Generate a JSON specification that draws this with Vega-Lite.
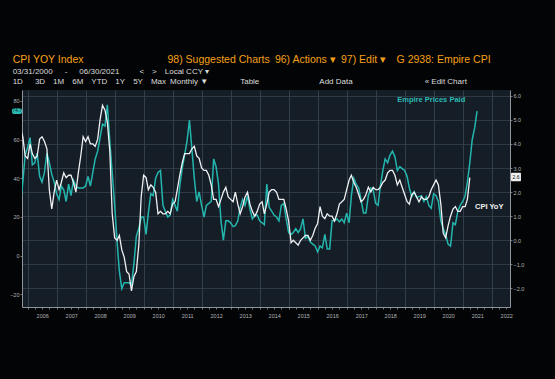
{
  "$schema": "https://vega.github.io/schema/vega-lite/v6.json",
  "width": 488,
  "height": 217,
  "autosize": {"type": "none"},
  "padding": {"left": 22, "top": 90, "right": 45, "bottom": 72},
  "background": "#030405",
  "config": {
    "view": {"fill": "#151d27", "stroke": null},
    "font": "Liberation Sans"
  },
  "title": {
    "text": "CPI YOY Index\u2003\u2003\u2003\u2003\u2003\u2003\u2003\u200398) Suggested Charts\u200296) Actions \u25be\u200297) Edit \u25be\u2003G 2938: Empire CPI",
    "subtitle": [
      "03/31/2000\u2003\u2002-\u2003\u200206/30/2021\u2003\u2003\u2002<\u2003>\u2003Local CCY \u25be",
      "1D\u2003\u20023D\u20031M\u20036M\u2003YTD\u20031Y\u20035Y\u2003Max\u2002Monthly \u25bc\u2003\u2003\u2003\u2003Table\u2003\u2003\u2003\u2003\u2003\u2003\u2003\u2002Add Data\u2003\u2003\u2003\u2003\u2003\u2003\u2003\u2003\u2003\u00ab Edit Chart"
    ],
    "anchor": "start",
    "dx": 3,
    "offset": 4,
    "color": "#f5a01a",
    "fontSize": 10.5,
    "fontWeight": "normal",
    "font": "Liberation Sans",
    "subtitleColor": "#dcdcdc",
    "subtitleFont": "Liberation Sans",
    "subtitleFontSize": 8,
    "subtitleLineHeight": 10,
    "subtitlePadding": 3
  },
  "data": {"name": "main"},
  "datasets": {
    "main": [
      {"date": "2005-09-30", "cpi": 4.7, "epp": 25},
      {"date": "2005-10-31", "cpi": 4.3, "epp": 38},
      {"date": "2005-11-30", "cpi": 3.5, "epp": 52},
      {"date": "2005-12-31", "cpi": 3.4, "epp": 56},
      {"date": "2006-01-31", "cpi": 4.0, "epp": 61},
      {"date": "2006-02-28", "cpi": 3.6, "epp": 47},
      {"date": "2006-03-31", "cpi": 3.4, "epp": 48},
      {"date": "2006-04-30", "cpi": 3.5, "epp": 53},
      {"date": "2006-05-31", "cpi": 4.2, "epp": 41},
      {"date": "2006-06-30", "cpi": 4.3, "epp": 38},
      {"date": "2006-07-31", "cpi": 4.1, "epp": 43},
      {"date": "2006-08-31", "cpi": 3.8, "epp": 53},
      {"date": "2006-09-30", "cpi": 2.1, "epp": 48},
      {"date": "2006-10-31", "cpi": 1.3, "epp": 42},
      {"date": "2006-11-30", "cpi": 2.0, "epp": 38},
      {"date": "2006-12-31", "cpi": 2.5, "epp": 32},
      {"date": "2007-01-31", "cpi": 2.1, "epp": 29},
      {"date": "2007-02-28", "cpi": 2.4, "epp": 36},
      {"date": "2007-03-31", "cpi": 2.8, "epp": 34},
      {"date": "2007-04-30", "cpi": 2.6, "epp": 28},
      {"date": "2007-05-31", "cpi": 2.7, "epp": 37},
      {"date": "2007-06-30", "cpi": 2.7, "epp": 31},
      {"date": "2007-07-31", "cpi": 2.4, "epp": 39},
      {"date": "2007-08-31", "cpi": 2.0, "epp": 36},
      {"date": "2007-09-30", "cpi": 2.8, "epp": 35},
      {"date": "2007-10-31", "cpi": 3.5, "epp": 35},
      {"date": "2007-11-30", "cpi": 4.3, "epp": 35},
      {"date": "2007-12-31", "cpi": 4.1, "epp": 36},
      {"date": "2008-01-31", "cpi": 4.3, "epp": 41},
      {"date": "2008-02-29", "cpi": 4.0, "epp": 36},
      {"date": "2008-03-31", "cpi": 4.0, "epp": 43},
      {"date": "2008-04-30", "cpi": 3.9, "epp": 50},
      {"date": "2008-05-31", "cpi": 4.2, "epp": 54},
      {"date": "2008-06-30", "cpi": 5.0, "epp": 61},
      {"date": "2008-07-31", "cpi": 5.6, "epp": 68},
      {"date": "2008-08-31", "cpi": 5.4, "epp": 67},
      {"date": "2008-09-30", "cpi": 4.9, "epp": 78},
      {"date": "2008-10-31", "cpi": 3.7, "epp": 59},
      {"date": "2008-11-30", "cpi": 1.1, "epp": 43},
      {"date": "2008-12-31", "cpi": 0.1, "epp": 26},
      {"date": "2009-01-31", "cpi": 0.0, "epp": 7},
      {"date": "2009-02-28", "cpi": 0.2, "epp": -8},
      {"date": "2009-03-31", "cpi": -0.4, "epp": -17},
      {"date": "2009-04-30", "cpi": -0.7, "epp": -14},
      {"date": "2009-05-31", "cpi": -1.3, "epp": -14},
      {"date": "2009-06-30", "cpi": -1.4, "epp": -14},
      {"date": "2009-07-31", "cpi": -2.1, "epp": -15},
      {"date": "2009-08-31", "cpi": -1.5, "epp": -4},
      {"date": "2009-09-30", "cpi": -1.3, "epp": 10},
      {"date": "2009-10-31", "cpi": -0.2, "epp": 14},
      {"date": "2009-11-30", "cpi": 1.8, "epp": 20},
      {"date": "2009-12-31", "cpi": 2.7, "epp": 20},
      {"date": "2010-01-31", "cpi": 2.6, "epp": 11},
      {"date": "2010-02-28", "cpi": 2.1, "epp": 22},
      {"date": "2010-03-31", "cpi": 2.3, "epp": 32},
      {"date": "2010-04-30", "cpi": 2.2, "epp": 31},
      {"date": "2010-05-31", "cpi": 2.0, "epp": 40},
      {"date": "2010-06-30", "cpi": 1.1, "epp": 43},
      {"date": "2010-07-31", "cpi": 1.2, "epp": 44},
      {"date": "2010-08-31", "cpi": 1.1, "epp": 26},
      {"date": "2010-09-30", "cpi": 1.1, "epp": 23},
      {"date": "2010-10-31", "cpi": 1.2, "epp": 20},
      {"date": "2010-11-30", "cpi": 1.1, "epp": 21},
      {"date": "2010-12-31", "cpi": 1.5, "epp": 29},
      {"date": "2011-01-31", "cpi": 1.6, "epp": 26},
      {"date": "2011-02-28", "cpi": 2.1, "epp": 23},
      {"date": "2011-03-31", "cpi": 2.7, "epp": 36},
      {"date": "2011-04-30", "cpi": 3.2, "epp": 45},
      {"date": "2011-05-31", "cpi": 3.6, "epp": 52},
      {"date": "2011-06-30", "cpi": 3.6, "epp": 59},
      {"date": "2011-07-31", "cpi": 3.6, "epp": 70},
      {"date": "2011-08-31", "cpi": 3.8, "epp": 55},
      {"date": "2011-09-30", "cpi": 3.9, "epp": 40},
      {"date": "2011-10-31", "cpi": 3.5, "epp": 28},
      {"date": "2011-11-30", "cpi": 3.4, "epp": 33},
      {"date": "2011-12-31", "cpi": 3.0, "epp": 26},
      {"date": "2012-01-31", "cpi": 2.9, "epp": 20},
      {"date": "2012-02-29", "cpi": 2.9, "epp": 26},
      {"date": "2012-03-31", "cpi": 2.7, "epp": 27},
      {"date": "2012-04-30", "cpi": 2.3, "epp": 28},
      {"date": "2012-05-31", "cpi": 1.7, "epp": 50},
      {"date": "2012-06-30", "cpi": 1.7, "epp": 46},
      {"date": "2012-07-31", "cpi": 1.4, "epp": 37},
      {"date": "2012-08-31", "cpi": 1.7, "epp": 18},
      {"date": "2012-09-30", "cpi": 2.0, "epp": 8},
      {"date": "2012-10-31", "cpi": 2.2, "epp": 18},
      {"date": "2012-11-30", "cpi": 1.8, "epp": 18},
      {"date": "2012-12-31", "cpi": 1.7, "epp": 17},
      {"date": "2013-01-31", "cpi": 1.6, "epp": 15},
      {"date": "2013-02-28", "cpi": 2.0, "epp": 15.5},
      {"date": "2013-03-31", "cpi": 1.5, "epp": 18},
      {"date": "2013-04-30", "cpi": 1.1, "epp": 25},
      {"date": "2013-05-31", "cpi": 1.4, "epp": 29},
      {"date": "2013-06-30", "cpi": 1.8, "epp": 26},
      {"date": "2013-07-31", "cpi": 2.0, "epp": 31},
      {"date": "2013-08-31", "cpi": 1.5, "epp": 24},
      {"date": "2013-09-30", "cpi": 1.2, "epp": 19},
      {"date": "2013-10-31", "cpi": 1.0, "epp": 21},
      {"date": "2013-11-30", "cpi": 1.2, "epp": 21},
      {"date": "2013-12-31", "cpi": 1.5, "epp": 18},
      {"date": "2014-01-31", "cpi": 1.6, "epp": 17},
      {"date": "2014-02-28", "cpi": 1.1, "epp": 16},
      {"date": "2014-03-31", "cpi": 1.5, "epp": 37},
      {"date": "2014-04-30", "cpi": 2.0, "epp": 25},
      {"date": "2014-05-31", "cpi": 2.1, "epp": 23},
      {"date": "2014-06-30", "cpi": 2.1, "epp": 21},
      {"date": "2014-07-31", "cpi": 2.0, "epp": 20},
      {"date": "2014-08-31", "cpi": 1.7, "epp": 18},
      {"date": "2014-09-30", "cpi": 1.7, "epp": 26},
      {"date": "2014-10-31", "cpi": 1.7, "epp": 27},
      {"date": "2014-11-30", "cpi": 1.3, "epp": 19},
      {"date": "2014-12-31", "cpi": 0.8, "epp": 12},
      {"date": "2015-01-31", "cpi": -0.1, "epp": 11},
      {"date": "2015-02-28", "cpi": 0.0, "epp": 12},
      {"date": "2015-03-31", "cpi": -0.1, "epp": 14},
      {"date": "2015-04-30", "cpi": -0.2, "epp": 12},
      {"date": "2015-05-31", "cpi": 0.0, "epp": 14},
      {"date": "2015-06-30", "cpi": 0.1, "epp": 19},
      {"date": "2015-07-31", "cpi": 0.2, "epp": 9},
      {"date": "2015-08-31", "cpi": 0.2, "epp": 10},
      {"date": "2015-09-30", "cpi": 0.0, "epp": 7},
      {"date": "2015-10-31", "cpi": 0.2, "epp": 6},
      {"date": "2015-11-30", "cpi": 0.5, "epp": 5},
      {"date": "2015-12-31", "cpi": 0.7, "epp": 2},
      {"date": "2016-01-31", "cpi": 1.4, "epp": 5},
      {"date": "2016-02-29", "cpi": 1.0, "epp": 4},
      {"date": "2016-03-31", "cpi": 0.9, "epp": 11},
      {"date": "2016-04-30", "cpi": 1.1, "epp": 3.5},
      {"date": "2016-05-31", "cpi": 1.0, "epp": 3.5},
      {"date": "2016-06-30", "cpi": 1.0, "epp": 18},
      {"date": "2016-07-31", "cpi": 0.8, "epp": 18},
      {"date": "2016-08-31", "cpi": 1.1, "epp": 19},
      {"date": "2016-09-30", "cpi": 1.5, "epp": 17.5},
      {"date": "2016-10-31", "cpi": 1.6, "epp": 19},
      {"date": "2016-11-30", "cpi": 1.7, "epp": 17},
      {"date": "2016-12-31", "cpi": 2.1, "epp": 22},
      {"date": "2017-01-31", "cpi": 2.5, "epp": 17},
      {"date": "2017-02-28", "cpi": 2.7, "epp": 31},
      {"date": "2017-03-31", "cpi": 2.4, "epp": 40},
      {"date": "2017-04-30", "cpi": 2.2, "epp": 37},
      {"date": "2017-05-31", "cpi": 1.9, "epp": 35},
      {"date": "2017-06-30", "cpi": 1.6, "epp": 29},
      {"date": "2017-07-31", "cpi": 1.7, "epp": 22},
      {"date": "2017-08-31", "cpi": 1.9, "epp": 22},
      {"date": "2017-09-30", "cpi": 2.2, "epp": 31},
      {"date": "2017-10-31", "cpi": 2.0, "epp": 35},
      {"date": "2017-11-30", "cpi": 2.2, "epp": 34},
      {"date": "2017-12-31", "cpi": 2.1, "epp": 27},
      {"date": "2018-01-31", "cpi": 2.1, "epp": 26},
      {"date": "2018-02-28", "cpi": 2.2, "epp": 36},
      {"date": "2018-03-31", "cpi": 2.4, "epp": 44},
      {"date": "2018-04-30", "cpi": 2.5, "epp": 50},
      {"date": "2018-05-31", "cpi": 2.8, "epp": 48},
      {"date": "2018-06-30", "cpi": 2.9, "epp": 52},
      {"date": "2018-07-31", "cpi": 2.9, "epp": 54},
      {"date": "2018-08-31", "cpi": 2.7, "epp": 51},
      {"date": "2018-09-30", "cpi": 2.3, "epp": 44},
      {"date": "2018-10-31", "cpi": 2.5, "epp": 46},
      {"date": "2018-11-30", "cpi": 2.2, "epp": 45},
      {"date": "2018-12-31", "cpi": 1.9, "epp": 44},
      {"date": "2019-01-31", "cpi": 1.6, "epp": 41},
      {"date": "2019-02-28", "cpi": 1.5, "epp": 35},
      {"date": "2019-03-31", "cpi": 1.9, "epp": 30.5},
      {"date": "2019-04-30", "cpi": 2.0, "epp": 33},
      {"date": "2019-05-31", "cpi": 1.8, "epp": 30},
      {"date": "2019-06-30", "cpi": 1.6, "epp": 30.5},
      {"date": "2019-07-31", "cpi": 1.8, "epp": 31},
      {"date": "2019-08-31", "cpi": 1.7, "epp": 28},
      {"date": "2019-09-30", "cpi": 1.7, "epp": 30.5},
      {"date": "2019-10-31", "cpi": 1.8, "epp": 26},
      {"date": "2019-11-30", "cpi": 2.1, "epp": 24.5},
      {"date": "2019-12-31", "cpi": 2.3, "epp": 32},
      {"date": "2020-01-31", "cpi": 2.5, "epp": 31},
      {"date": "2020-02-29", "cpi": 2.3, "epp": 28},
      {"date": "2020-03-31", "cpi": 1.5, "epp": 18},
      {"date": "2020-04-30", "cpi": 0.3, "epp": 14},
      {"date": "2020-05-31", "cpi": 0.1, "epp": 11},
      {"date": "2020-06-30", "cpi": 0.6, "epp": 6},
      {"date": "2020-07-31", "cpi": 1.0, "epp": 5},
      {"date": "2020-08-31", "cpi": 1.3, "epp": 17},
      {"date": "2020-09-30", "cpi": 1.4, "epp": 16},
      {"date": "2020-10-31", "cpi": 1.2, "epp": 23},
      {"date": "2020-11-30", "cpi": 1.2, "epp": 26},
      {"date": "2020-12-31", "cpi": 1.4, "epp": 28},
      {"date": "2021-01-31", "cpi": 1.4, "epp": 31},
      {"date": "2021-02-28", "cpi": 1.7, "epp": 38},
      {"date": "2021-03-31", "cpi": 2.6, "epp": 48},
      {"date": "2021-04-30", "cpi": null, "epp": 60},
      {"date": "2021-05-31", "cpi": null, "epp": 66},
      {"date": "2021-06-30", "cpi": null, "epp": 74.7}
    ]
  },
  "resolve": {"scale": {"y": "independent"}},
  "layer": [
    {
      "layer": [
        {
          "mark": {"type": "line", "color": "#24b6ae", "strokeWidth": 1.5, "clip": true},
          "encoding": {
            "x": {
              "field": "date", "type": "temporal",
              "scale": {"type": "utc", "domain": [{"year": 2005, "month": 10, "date": 21, "utc": true}, {"year": 2022, "month": 8, "date": 19, "utc": true}]},
              "axis": {
                "title": null, "orient": "bottom",
                "tickCount": {"interval": "month", "step": 3},
                "grid": true, "gridColor": "#3a4652", "gridWidth": 0.8,
                "gridOpacity": {"condition": {"test": "utcmonth(datum.value) == 0", "value": 1}, "value": 0},
                "labelExpr": "utcmonth(datum.value) == 0 ? utcFormat(datum.value, '%Y') : ''",
                "labelOffset": 14.5, "labelFontSize": 5.5, "labelColor": "#b0b5ba", "labelPadding": 4,
                "labelOverlap": false, "labelBound": false, "labelFlush": false,
                "tickSize": 2, "tickColor": "#8d949b", "tickWidth": 0.8,
                "domainColor": "#8d949b", "domainWidth": 1
              }
            },
            "y": {
              "field": "epp", "type": "quantitative",
              "scale": {"domain": [-26.5, 85.6], "nice": false, "zero": false},
              "axis": {
                "title": null, "orient": "left", "values": [-20, 0, 20, 40, 60, 80], "grid": false,
                "labelFontSize": 5.5, "labelColor": "#b0b5ba", "labelPadding": 1,
                "labelOverlap": false, "labelBound": false, "labelFlush": false,
                "tickSize": 2, "tickColor": "#8d949b", "tickWidth": 0.8,
                "domainColor": "#8d949b", "domainWidth": 1
              }
            }
          }
        },
        {
          "data": {"values": [{"date": "2019-12-01", "value": 80.5, "label": "Empire Prices Paid"}]},
          "mark": {"type": "text", "fontWeight": "bold", "fontSize": 7.5, "color": "#2bbab2", "font": "Liberation Sans"},
          "encoding": {
            "x": {"field": "date", "type": "temporal", "scale": {"type": "utc", "domain": [{"year": 2005, "month": 10, "date": 21, "utc": true}, {"year": 2022, "month": 8, "date": 19, "utc": true}]}},
            "y": {"field": "value", "type": "quantitative", "scale": {"domain": [-26.5, 85.6], "nice": false, "zero": false}},
            "text": {"field": "label"}
          }
        },
        {
          "data": {"values": [{"start": "2005-06-17", "end": "2005-10-21", "low": 73.2, "high": 76.2}]},
          "mark": {"type": "rect", "color": "#2bbab2", "cornerRadius": 2},
          "encoding": {
            "x": {"field": "start", "type": "temporal", "scale": {"type": "utc", "domain": [{"year": 2005, "month": 10, "date": 21, "utc": true}, {"year": 2022, "month": 8, "date": 19, "utc": true}]}},
            "x2": {"field": "end"},
            "y": {"field": "low", "type": "quantitative", "scale": {"domain": [-26.5, 85.6], "nice": false, "zero": false}},
            "y2": {"field": "high"}
          }
        },
        {
          "data": {"values": [{"date": "2005-08-19", "value": 74.7, "label": "74.7"}]},
          "mark": {"type": "text", "fontSize": 4.5, "color": "#0b1a1a", "font": "Liberation Sans"},
          "encoding": {
            "x": {"field": "date", "type": "temporal", "scale": {"type": "utc", "domain": [{"year": 2005, "month": 10, "date": 21, "utc": true}, {"year": 2022, "month": 8, "date": 19, "utc": true}]}},
            "y": {"field": "value", "type": "quantitative", "scale": {"domain": [-26.5, 85.6], "nice": false, "zero": false}},
            "text": {"field": "label"}
          }
        }
      ]
    },
    {
      "layer": [
        {
          "mark": {"type": "line", "color": "#eef0f2", "strokeWidth": 1.3, "clip": true},
          "encoding": {
            "x": {"field": "date", "type": "temporal", "scale": {"type": "utc", "domain": [{"year": 2005, "month": 10, "date": 21, "utc": true}, {"year": 2022, "month": 8, "date": 19, "utc": true}]}},
            "y": {
              "field": "cpi", "type": "quantitative",
              "scale": {"domain": [-2.77, 6.24], "nice": false, "zero": false},
              "axis": {
                "title": null, "orient": "right", "values": [-2, -1, 0, 1, 2, 3, 4, 5, 6], "format": ".1f",
                "grid": true, "gridColor": "#34404b", "gridWidth": 0.8,
                "labelFontSize": 5.5, "labelColor": "#b0b5ba", "labelPadding": 1,
                "labelOverlap": false, "labelBound": false, "labelFlush": false,
                "tickSize": 2, "tickColor": "#8d949b", "tickWidth": 0.8,
                "domainColor": "#8d949b", "domainWidth": 1
              }
            }
          }
        },
        {
          "data": {"values": [{"date": "2021-11-30", "value": 1.39, "label": "CPI YoY"}]},
          "mark": {"type": "text", "fontWeight": "bold", "fontSize": 7.5, "color": "#f2f2f2", "font": "Liberation Sans"},
          "encoding": {
            "x": {"field": "date", "type": "temporal", "scale": {"type": "utc", "domain": [{"year": 2005, "month": 10, "date": 21, "utc": true}, {"year": 2022, "month": 8, "date": 19, "utc": true}]}},
            "y": {
              "field": "value", "type": "quantitative",
              "scale": {"domain": [-2.77, 6.24], "nice": false, "zero": false},
              "axis": {
                "title": null, "orient": "right", "values": [-2, -1, 0, 1, 2, 3, 4, 5, 6], "format": ".1f",
                "grid": true, "gridColor": "#34404b", "gridWidth": 0.8,
                "labelFontSize": 5.5, "labelColor": "#b0b5ba", "labelPadding": 1,
                "labelOverlap": false, "labelBound": false, "labelFlush": false,
                "tickSize": 2, "tickColor": "#8d949b", "tickWidth": 0.8,
                "domainColor": "#8d949b", "domainWidth": 1
              }
            },
            "text": {"field": "label"}
          }
        },
        {
          "data": {"values": [{"start": "2022-09-01", "end": "2023-01-04", "low": 2.45, "high": 2.8}]},
          "mark": {"type": "rect", "color": "#f0f0f0", "cornerRadius": 1},
          "encoding": {
            "x": {"field": "start", "type": "temporal", "scale": {"type": "utc", "domain": [{"year": 2005, "month": 10, "date": 21, "utc": true}, {"year": 2022, "month": 8, "date": 19, "utc": true}]}},
            "x2": {"field": "end"},
            "y": {
              "field": "low", "type": "quantitative",
              "scale": {"domain": [-2.77, 6.24], "nice": false, "zero": false},
              "axis": {
                "title": null, "orient": "right", "values": [-2, -1, 0, 1, 2, 3, 4, 5, 6], "format": ".1f",
                "grid": true, "gridColor": "#34404b", "gridWidth": 0.8,
                "labelFontSize": 5.5, "labelColor": "#b0b5ba", "labelPadding": 1,
                "labelOverlap": false, "labelBound": false, "labelFlush": false,
                "tickSize": 2, "tickColor": "#8d949b", "tickWidth": 0.8,
                "domainColor": "#8d949b", "domainWidth": 1
              }
            },
            "y2": {"field": "high"}
          }
        },
        {
          "data": {"values": [{"date": "2022-11-02", "value": 2.62, "label": "2.6"}]},
          "mark": {"type": "text", "fontSize": 5, "color": "#111111", "font": "Liberation Sans"},
          "encoding": {
            "x": {"field": "date", "type": "temporal", "scale": {"type": "utc", "domain": [{"year": 2005, "month": 10, "date": 21, "utc": true}, {"year": 2022, "month": 8, "date": 19, "utc": true}]}},
            "y": {
              "field": "value", "type": "quantitative",
              "scale": {"domain": [-2.77, 6.24], "nice": false, "zero": false},
              "axis": {
                "title": null, "orient": "right", "values": [-2, -1, 0, 1, 2, 3, 4, 5, 6], "format": ".1f",
                "grid": true, "gridColor": "#34404b", "gridWidth": 0.8,
                "labelFontSize": 5.5, "labelColor": "#b0b5ba", "labelPadding": 1,
                "labelOverlap": false, "labelBound": false, "labelFlush": false,
                "tickSize": 2, "tickColor": "#8d949b", "tickWidth": 0.8,
                "domainColor": "#8d949b", "domainWidth": 1
              }
            },
            "text": {"field": "label"}
          }
        }
      ]
    }
  ]
}
